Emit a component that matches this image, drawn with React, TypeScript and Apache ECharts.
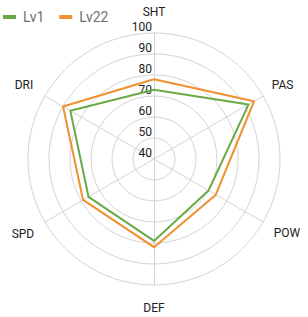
import React, { useEffect, useRef } from "react";
import * as echarts from "echarts";

const indicators = ["SHT", "DRI", "SPD", "DEF", "POW", "PAS"];
const lv1 = [73, 86, 76, 79, 70, 92];
const lv22 = [78, 90, 79, 82, 74, 95];
const seriesNames = ["Lv1", "Lv22"];
const colors = ["#6aaa46", "#f0902f"];

const namePad: Record<string, number[]> = {
  SHT: [0, 0, 5, 0],
  DRI: [0, 3, 12, 0],
  SPD: [14, 2, 0, 0],
  DEF: [7, 0, 0, 0],
  POW: [12, 0, 0, 2],
  PAS: [0, 0, 12, 0],
};

export default function App() {
  const ref = useRef<HTMLDivElement>(null);
  useEffect(() => {
    document.body.style.margin = "0";
    const chart = echarts.init(ref.current!, null, { renderer: "svg" });
    const rich: Record<string, any> = {};
    indicators.forEach((n) => {
      rich[n] = { padding: namePad[n], color: "#222", fontSize: 12, fontFamily: "Roboto" };
    });
    chart.setOption({
      animation: false,
      color: colors,
      legend: {
        left: 0,
        top: 5,
        padding: [5, 5, 5, 3],
        itemWidth: 13,
        itemHeight: 4,
        itemGap: 15,
        icon: "rect",
        textStyle: { color: "#707070", fontSize: 14, fontFamily: "Roboto", padding: [0, 0, 0, 2] },
        data: seriesNames,
      },
      radar: {
        center: [154, 159],
        radius: 126,
        shape: "circle",
        splitNumber: 6,
        nameGap: 10,
        axisName: {
          color: "#222",
          fontSize: 12,
          fontFamily: "Roboto",
          formatter: (name: string) => `{${name}|${name}}`,
          rich,
        },
        splitArea: { show: false },
        splitLine: { lineStyle: { color: "#d4d4d4" } },
        axisLine: { lineStyle: { color: "#d4d4d4" } },
        axisLabel: { show: false },
        indicator: indicators.map((n, i) => ({
          name: n,
          min: 40,
          max: 100,
          ...(i === 0
            ? {
                axisLabel: {
                  show: true,
                  color: "#222",
                  fontSize: 12,
                  fontFamily: "Roboto",
                  margin: 2,
                  verticalAlign: "bottom",
                },
              }
            : {}),
        })),
      },
      series: [
        {
          type: "radar",
          symbol: "none",
          data: [
            { name: seriesNames[0], value: lv1, lineStyle: { width: 2 } },
            { name: seriesNames[1], value: lv22, lineStyle: { width: 2 } },
          ],
        },
      ],
    });
    return () => chart.dispose();
  }, []);
  return <div ref={ref} style={{ width: 308, height: 317 }} />;
}
